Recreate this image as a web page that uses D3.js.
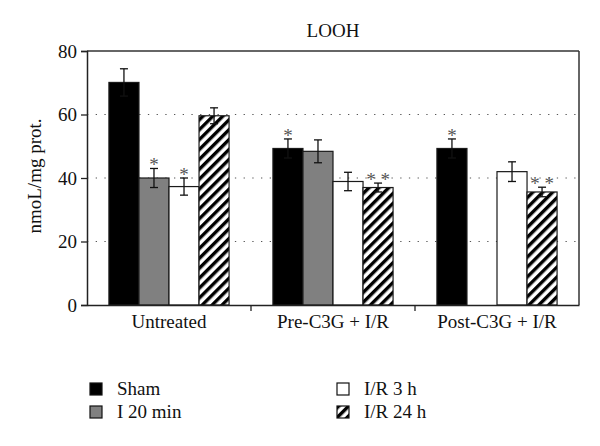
<!DOCTYPE html>
<html><head><meta charset="utf-8">
<script src="https://cdn.jsdelivr.net/npm/d3@7"></script>
<style>html,body{margin:0;padding:0;background:#fff;}svg{display:block;}</style>
</head><body>
<script>
const categories = ["Untreated", "Pre-C3G + I/R", "Post-C3G + I/R"];
const seriesNames = ["Sham", "I 20 min", "I/R 3 h", "I/R 24 h"];
const shamValues = [70.1, 49.3, 49.3];
const shamErrors = [4.3, 3.0, 3.0];
const i20Values = [40.0, 48.4, null];
const i20Errors = [3.0, 3.6, null];
const ir3Values = [37.3, 38.9, 42.0];
const ir3Errors = [2.7, 2.9, 3.1];
const ir24Values = [59.6, 37.0, 35.6];
const ir24Errors = [2.5, 1.4, 1.5];
const shamStars = ["", "*", "*"];
const i20Stars = ["*", "", ""];
const ir3Stars = ["*", "", ""];
const ir24Stars = ["", "* *", "* *"];
const yTicks = [0, 20, 40, 60, 80];
const gridTicks = [20, 40, 60];

const W = 600, H = 446;
const font = "'Liberation Serif', 'DejaVu Serif', serif";
const svg = d3.select("body").append("svg").attr("width", W).attr("height", H);

const defs = svg.append("defs");
const pat = defs.append("pattern").attr("id", "hatch").attr("patternUnits", "userSpaceOnUse")
  .attr("width", 7).attr("height", 7).attr("patternTransform", "rotate(45)");
pat.append("rect").attr("width", 7).attr("height", 7).attr("fill", "#fff");
pat.append("rect").attr("width", 3.4).attr("height", 7).attr("fill", "#000");

const seriesFill = ["#000", "#808080", "#fff", "url(#hatch)"];
const seriesVals = [shamValues, i20Values, ir3Values, ir24Values];
const seriesErrs = [shamErrors, i20Errors, ir3Errors, ir24Errors];
const seriesStars = [shamStars, i20Stars, ir3Stars, ir24Stars];

const x = d3.scaleBand().domain(categories).range([87, 579]).paddingInner(0).paddingOuter(0);
const xs = d3.scaleBand().domain(seriesNames).range([0, x.bandwidth()]).paddingInner(0).paddingOuter(0.73);
const y = d3.scaleLinear().domain([0, 80]).range([305, 51]);

// grid
svg.append("g").selectAll("line").data(gridTicks).join("line")
  .attr("x1", 87).attr("x2", 579).attr("y1", d => y(d)).attr("y2", d => y(d))
  .attr("stroke", "#555").attr("stroke-width", 1.2).attr("stroke-dasharray", "1.3,7.4");

// bars
const rows = [];
categories.forEach((c, ci) => seriesNames.forEach((s, si) => {
  const v = seriesVals[si][ci];
  if (v != null) rows.push({c, s, si, v, e: seriesErrs[si][ci], star: seriesStars[si][ci]});
}));

const g = svg.append("g");
g.selectAll("rect").data(rows).join("rect")
  .attr("x", d => x(d.c) + xs(d.s)).attr("width", xs.bandwidth())
  .attr("y", d => y(d.v)).attr("height", d => y(0) - y(d.v))
  .attr("fill", d => seriesFill[d.si]).attr("stroke", "#1a1a1a").attr("stroke-width", 1.2);

// error bars
const eb = svg.append("g").attr("stroke", "#111").attr("stroke-width", 1.3);
rows.forEach(d => {
  const cx = x(d.c) + xs(d.s) + xs.bandwidth() / 2;
  eb.append("line").attr("x1", cx).attr("x2", cx).attr("y1", y(d.v - d.e)).attr("y2", y(d.v + d.e));
  [d.v - d.e, d.v + d.e].forEach(t => eb.append("line").attr("x1", cx - 4).attr("x2", cx + 4).attr("y1", y(t)).attr("y2", y(t)));
});

// stars
svg.append("g").selectAll("text").data(rows.filter(d => d.star)).join("text")
  .attr("x", d => x(d.c) + xs(d.s) + xs.bandwidth() / 2)
  .attr("y", d => y(d.v + d.e) + 3)
  .attr("text-anchor", "middle").attr("font-family", font).attr("font-size", 19)
  .attr("fill", "#555").text(d => d.star);

// frame
svg.append("line").attr("x1", 87).attr("x2", 579).attr("y1", 51).attr("y2", 51).attr("stroke", "#333").attr("stroke-width", 1.5);
svg.append("line").attr("x1", 579).attr("x2", 579).attr("y1", 51).attr("y2", 305).attr("stroke", "#333").attr("stroke-width", 1.5);

// y axis
const yAxis = svg.append("g").attr("transform", "translate(87,0)")
  .call(d3.axisLeft(y).tickValues(yTicks).tickSize(6).tickPadding(4).tickFormat(d3.format("d")));
yAxis.select(".domain").attr("stroke", "#222").attr("stroke-width", 1.5);
yAxis.selectAll(".tick line").attr("stroke", "#222").attr("stroke-width", 1.3);
yAxis.selectAll("text").attr("font-family", font).attr("font-size", 19).attr("fill", "#111");

// x axis
const xAxis = svg.append("g").attr("transform", "translate(0,305)")
  .call(d3.axisBottom(x).tickSize(0).tickPadding(10).tickSizeOuter(0));
xAxis.select(".domain").attr("stroke", "#222").attr("stroke-width", 1.5);
xAxis.selectAll("text").attr("font-family", font).attr("font-size", 19).attr("fill", "#111");
svg.append("g").selectAll("line").data(categories.slice(0, -1)).join("line")
  .attr("x1", d => x(d) + x.bandwidth()).attr("x2", d => x(d) + x.bandwidth())
  .attr("y1", 305).attr("y2", 311).attr("stroke", "#222").attr("stroke-width", 1.3);

// title
svg.append("text").attr("x", 333).attr("y", 37).attr("text-anchor", "middle")
  .attr("font-family", font).attr("font-size", 19).attr("fill", "#111").text("LOOH");

// y label
svg.append("text").attr("transform", "translate(41,176) rotate(-90)").attr("text-anchor", "middle")
  .attr("font-family", font).attr("font-size", 19).attr("fill", "#111").text("nmoL/mg prot.");

// legend
const legendPos = [[90, 389], [90, 412], [337, 389], [337, 412]];
const lg = svg.append("g");
seriesNames.forEach((s, i) => {
  const [lx, ly] = legendPos[i];
  lg.append("rect").attr("x", lx).attr("y", ly - 6).attr("width", 12).attr("height", 12)
    .attr("fill", seriesFill[i]).attr("stroke", "#111").attr("stroke-width", 1.2);
  lg.append("text").attr("x", lx + 27).attr("y", ly + 6).attr("font-family", font)
    .attr("font-size", 19).attr("fill", "#111").text(s);
});
</script>
</body></html>
